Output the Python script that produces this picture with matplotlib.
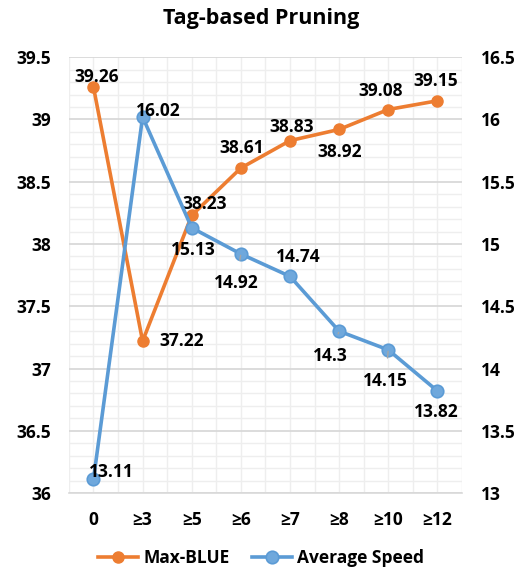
import matplotlib.pyplot as plt
from matplotlib.ticker import MultipleLocator, FuncFormatter

categories = ["0", "≥3", "≥5", "≥6", "≥7", "≥8", "≥10", "≥12"]
max_bleu = [39.26, 37.22, 38.23, 38.61, 38.83, 38.92, 39.08, 39.15]
avg_speed = [13.11, 16.02, 15.13, 14.92, 14.74, 14.3, 14.15, 13.82]

# label offsets in pixels (dx, dy), and whether a leader line is drawn
bleu_offsets = [(3, 10), (39, 0), (13, 11), (1, 20), (2, 14), (0, -23), (-8, 19), (-2, 20)]
speed_offsets = [(18, 7), (16, 6), (2, -22), (-5, -29), (8, 19), (-9, -25), (-3, -31), (-1, -21)]
speed_leader = [False, False, False, True, False, True, True, False]

ORANGE = "#ED7D31"
BLUE = "#5B9BD5"
plt.rcParams["font.family"] = ["Open Sans", "DejaVu Sans"]
plt.rcParams["font.weight"] = "bold"
FS = 12.5

fig = plt.figure(figsize=(5.22, 5.72), dpi=100)
ax = fig.add_axes([0.132, 0.138, 0.753, 0.762])
ax2 = ax.twinx()

x = list(range(len(categories)))
fmt = FuncFormatter(lambda v, p: f"{v:g}")

ax.set_xlim(-0.5, len(categories) - 0.5)
ax.set_ylim(36, 39.5)
ax2.set_ylim(13, 16.5)
ax.yaxis.set_major_locator(MultipleLocator(0.5))
ax.yaxis.set_minor_locator(MultipleLocator(0.1))
ax.yaxis.set_major_formatter(fmt)
ax2.yaxis.set_major_locator(MultipleLocator(0.5))
ax2.yaxis.set_major_formatter(fmt)
ax.set_xticks(x)
ax.set_xticklabels(categories)
ax.set_xticks([i - 0.5 for i in range(len(categories) + 1)], minor=True)

# gridlines
ax.grid(which="minor", axis="y", color="#EEEEEE", lw=1.0)
ax.grid(which="major", axis="y", color="#D6D6D6", lw=1.2)
ax.grid(which="both", axis="x", color="#EEEEEE", lw=1.0)
ax.set_axisbelow(True)

for a in (ax, ax2):
    for s in a.spines.values():
        s.set_visible(False)
    a.tick_params(which="both", length=0, labelsize=FS, colors="black")
ax.spines["bottom"].set_visible(True)
ax.spines["bottom"].set_color("#D9D9D9")
ax.spines["bottom"].set_linewidth(1.2)
ax.tick_params(axis="y", pad=13)
ax2.tick_params(axis="y", pad=14)
ax.tick_params(axis="x", pad=13)
for lab in ax.get_xticklabels() + ax.get_yticklabels() + ax2.get_yticklabels():
    lab.set_fontweight("bold")

l1, = ax.plot(x, max_bleu, color=ORANGE, lw=2.6, marker="o", ms=8,
              markerfacecolor=ORANGE, markeredgecolor=ORANGE, label="Max-BLUE", zorder=3)
l2, = ax2.plot(x, avg_speed, color=BLUE, lw=2.6, marker="o", ms=9,
               markerfacecolor="#6FA8DC", markeredgecolor=BLUE, markeredgewidth=1.2,
               label="Average Speed", zorder=3)

for xi, v, (dx, dy) in zip(x, max_bleu, bleu_offsets):
    ax.annotate(f"{v:g}", (xi, v), xytext=(dx, dy), textcoords="offset pixels",
                ha="center", va="center", fontsize=FS, fontweight="bold", zorder=5)

for xi, v, (dx, dy), lead in zip(x, avg_speed, speed_offsets, speed_leader):
    kw = {}
    if lead:
        kw["arrowprops"] = dict(arrowstyle="-", color="#A6A6A6", lw=1.0,
                                shrinkA=8, shrinkB=1)
    ax2.annotate(f"{v:g}", (xi, v), xytext=(dx, dy), textcoords="offset pixels",
                 ha="center", va="center", fontsize=FS, fontweight="bold", zorder=5, **kw)

fig.text(0.5, 0.968, "Tag-based Pruning", ha="center", va="center",
         fontsize=15.5, fontweight="bold")

fig.legend(handles=[l1, l2], loc="center", bbox_to_anchor=(0.5, 0.025), ncol=2,
           frameon=False, handlelength=2.3, columnspacing=1.3,
           handletextpad=0.3, prop={"weight": "bold", "size": FS})

fig.savefig("out.png", dpi=100)
